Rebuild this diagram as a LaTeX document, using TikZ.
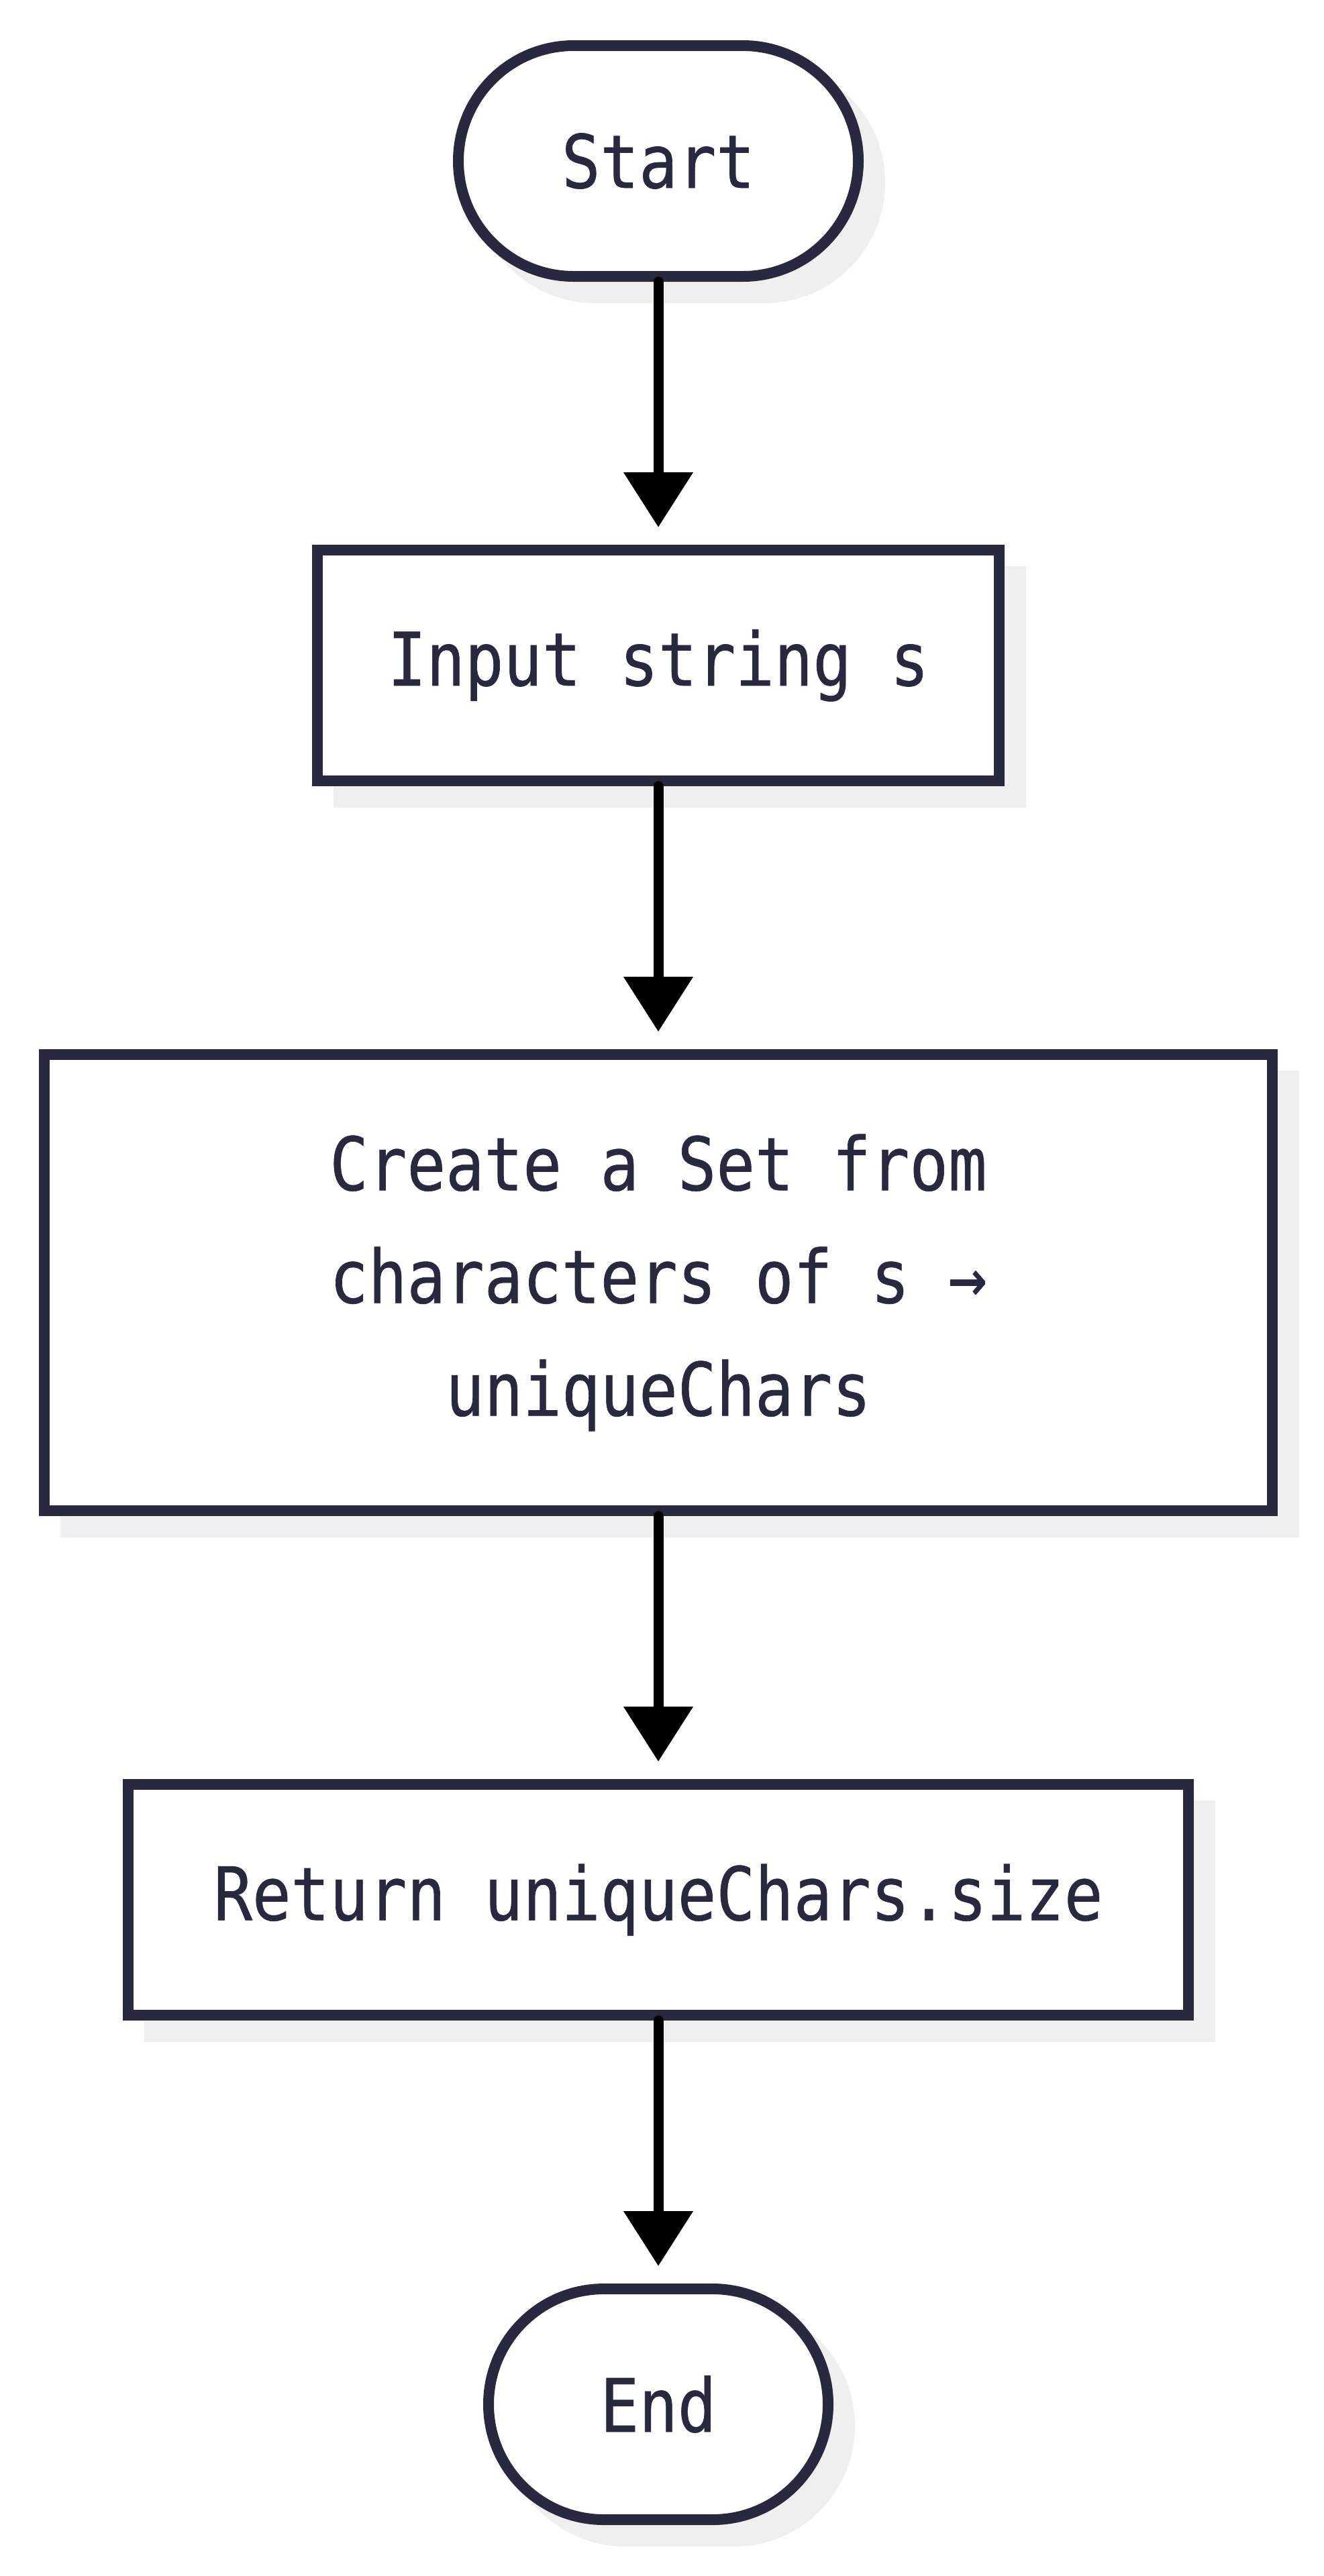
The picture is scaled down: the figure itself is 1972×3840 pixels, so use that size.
\documentclass[tikz,border=0pt]{standalone}
\usepackage{fontspec}
\newfontfamily\chartmono[FakeStretch=0.87,FakeBold=0.6]{DejaVu Sans Mono}
\usepackage{tikz}
\usetikzlibrary{arrows.meta,positioning}
\definecolor{chartnavy}{HTML}{29283F}
\definecolor{chartshadow}{HTML}{EFEFEF}
\newcommand{\chartfont}{\chartmono\fontsize{55pt}{84pt}\selectfont}
\tikzset{
every picture/.style={line cap=round,line join=round},
chart shadow/.style={
  preaction={draw=chartshadow, fill=chartshadow, transform canvas={shift={(16pt,-16pt)}}}
},
chart box/.style={
  draw=chartnavy,
  fill=white,
  line width=8pt,
  line join=miter,
  text=chartnavy,
  font=\chartfont,
  align=center,
  inner sep=0pt,
  minimum height=172pt,
  chart shadow
},
terminal node/.style={chart box, rounded corners=86pt},
step node/.style={chart box},
fig flow/.style={
  draw=black,
  -{Triangle[length=41pt,width=50pt]},
  line width=7.5pt,
  shorten >=13pt
}
}

\begin{document}
\begin{tikzpicture}[
x=0.5pt, y=0.5pt,
node distance=196pt,
]
\useasboundingbox (0,0) rectangle (1972,-3840);
\node[terminal node, minimum width=298pt] (start) at (981,-240) {Start};
\node[step node, minimum width=508pt, below=of start] (input) {Input string s};
\node[step node, minimum width=915pt, minimum height=340pt, below=of input] (create) {Create a Set from\\characters of s →\\uniqueChars};
\node[step node, minimum width=790pt, below=of create] (return) {Return uniqueChars.size};
\node[terminal node, minimum width=253pt, below=of return] (end) {End};
\draw[fig flow] (start) -- (input);
\draw[fig flow] (input) -- (create);
\draw[fig flow] (create) -- (return);
\draw[fig flow] (return) -- (end);
\end{tikzpicture}
\end{document}
